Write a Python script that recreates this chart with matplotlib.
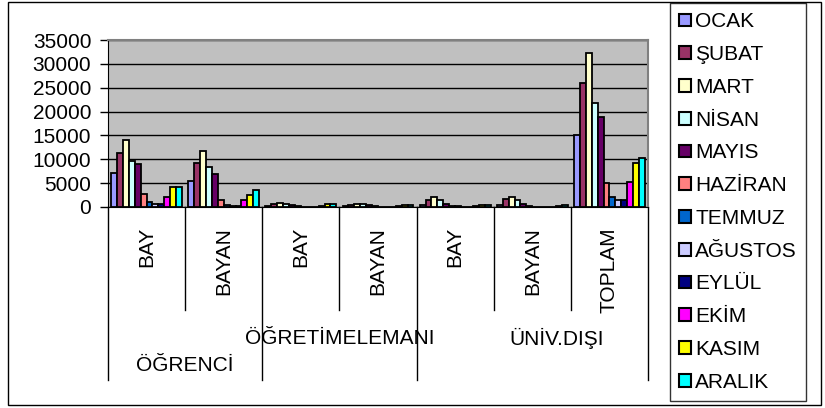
import numpy as np
import matplotlib
matplotlib.use("Agg")
import matplotlib.pyplot as plt
from matplotlib.patches import Rectangle, Patch

plt.rcParams['font.family'] = ['Liberation Sans', 'DejaVu Sans']

# category labels
alt_kat = ['BAY', 'BAYAN', 'BAY', 'BAYAN', 'BAY', 'BAYAN', 'TOPLAM']
ust_kat = ['ÖĞRENCİ', 'ÖĞRETİMELEMANI', 'ÜNİV.DIŞI']

aylar = ['OCAK', 'ŞUBAT', 'MART', 'NİSAN', 'MAYIS', 'HAZİRAN',
         'TEMMUZ', 'AĞUSTOS', 'EYLÜL', 'EKİM', 'KASIM', 'ARALIK']

# values per month, one per category
ocak    = [7200, 5500, 300, 200, 500, 500, 15100]
subat   = [11300, 9200, 700, 500, 1500, 1700, 25900]
mart    = [14000, 11800, 900, 700, 2000, 2100, 32300]
nisan   = [9600, 8300, 700, 600, 1500, 1400, 21700]
mayis   = [9000, 6900, 500, 400, 700, 600, 18900]
haziran = [2700, 1500, 300, 200, 300, 200, 5000]
temmuz  = [1000, 500, 100, 100, 200, 100, 2200]
agustos = [600, 300, 100, 100, 100, 100, 1500]
eylul   = [700, 300, 100, 100, 100, 100, 1500]
ekim    = [2200, 1500, 200, 200, 200, 100, 5200]
kasim   = [4100, 2600, 600, 500, 400, 300, 9300]
aralik  = [4100, 3600, 600, 500, 400, 400, 10300]

seriler = [ocak, subat, mart, nisan, mayis, haziran,
           temmuz, agustos, eylul, ekim, kasim, aralik]

renkler = ['#9999FF', '#993366', '#FFFFCC', '#CCFFFF', '#660066', '#FF8080',
           '#0066CC', '#CCCCFF', '#000080', '#FF00FF', '#FFFF00', '#00FFFF']

FS = 15
W, H = 825, 408
fig = plt.figure(figsize=(W/100, H/100), dpi=100)
ax = fig.add_axes([108/W, 1-207/H, (648-108)/W, (207-40)/H])
ax.set_facecolor('#C0C0C0')

x = np.arange(len(alt_kat))
n = len(seriler)
bw = 0.92 / n
for i, (s, c) in enumerate(zip(seriler, renkler)):
    ax.bar(x - 0.46 + bw*(i+0.5), s, bw, color=c, edgecolor='black',
           linewidth=1.3, zorder=3)

ax.set_xlim(-0.5, len(alt_kat)-0.5)
ax.set_ylim(0, 35000)
ax.set_yticks(range(0, 35001, 5000))
ax.yaxis.grid(True, color='black', linewidth=1)
ax.set_axisbelow(True)
ax.set_xticks([])
ax.tick_params(axis='y', direction='out', length=6, width=1, labelsize=FS, pad=6)
for sp in ['top', 'right']:
    ax.spines[sp].set_color('#808080')
    ax.spines[sp].set_linewidth(1.5)
ax.spines['left'].set_color('black')
ax.spines['bottom'].set_color('black')

# multi-level category axis
tr = ax.get_xaxis_transform()
for b in np.arange(-0.5, 7.0, 1.0):
    alt = -1.036 if b in (-0.5, 1.5, 3.5, 6.5) else -0.617
    ax.plot([b, b], [0, alt], color='black', lw=1, transform=tr, clip_on=False)
for xi, lab in zip(x, alt_kat):
    ax.text(xi, -0.12, lab, rotation=90, ha='center', va='top',
            fontsize=FS, transform=tr)
ax.text(0.5, -0.952, ust_kat[0], ha='center', va='center', fontsize=FS, transform=tr)
ax.text(2.5, -0.79, ust_kat[1], ha='center', va='center', fontsize=FS, transform=tr)
ax.text(5.32, -0.79, ust_kat[2], ha='center', va='center', fontsize=FS, transform=tr)

# legend
handles = [Patch(facecolor=c, edgecolor='black', linewidth=1.5) for c in renkler]
leg = fig.legend(handles, aylar, loc='upper left',
                 bbox_to_anchor=(670/W, 1-3/H), fontsize=FS,
                 frameon=True, fancybox=False, edgecolor='black',
                 handlelength=0.55, handleheight=0.55, handletextpad=0.2,
                 labelspacing=0.66, borderpad=0.45, borderaxespad=0)
leg.get_frame().set_linewidth(1)

# outer border
fig.patches.append(Rectangle((8/W, 1-405/H), (821-8)/W, (405-2)/H,
                             transform=fig.transFigure, fill=False,
                             edgecolor='black', linewidth=1))

fig.savefig('out.png', dpi=100)
